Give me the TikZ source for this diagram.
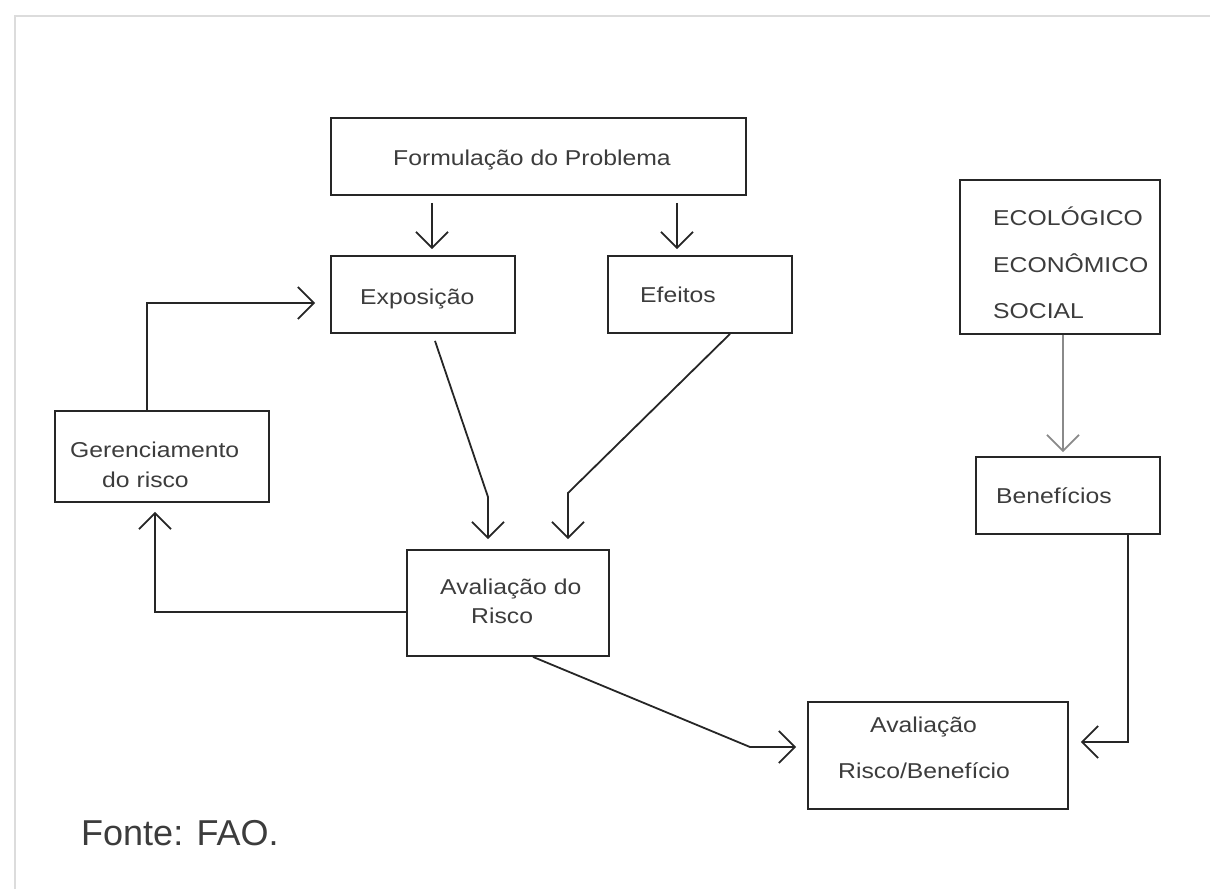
\documentclass[tikz,border=0pt]{standalone}
\usepackage{fontspec}
\setmainfont{Liberation Sans}
\newfontfamily\diagfont[FakeStretch=1.15]{Liberation Sans}
\usetikzlibrary{arrows.meta,calc}
\definecolor{ink}{HTML}{262626}
\definecolor{txt}{HTML}{3C3C3C}
\definecolor{framec}{HTML}{DCDCDC}
\definecolor{lightln}{HTML}{8A8A8A}
\begin{document}
\begin{tikzpicture}[x=1pt,y=-1pt,
 box/.style={draw=ink, line width=1.8pt, rectangle, inner sep=0pt},
 lbl/.style={font=\diagfont\fontsize{21.5}{26}\selectfont, text=txt, inner sep=0pt, anchor=base west},
 conn/.style={draw=ink, line width=1.8pt, line join=miter, -{Straight Barb[length=16pt,width=32pt]}},
]
\useasboundingbox (0,0) rectangle (1210,889);
\draw[framec, line width=2pt] (15,889) -- (15,16) -- (1210,16);

% boxes
\node[box, minimum width=415pt, minimum height=77pt] (form) at (538.5,156.5) {};
\node[box, minimum width=184pt, minimum height=77pt] (expo) at (423,294.5) {};
\node[box, minimum width=184pt, minimum height=77pt] (efei) at (700,294.5) {};
\node[box, minimum width=200pt, minimum height=154pt] (eco) at (1060,257) {};
\node[box, minimum width=184pt, minimum height=77pt] (benef) at (1068,495.5) {};
\node[box, minimum width=214pt, minimum height=91pt] (ger) at (162,456.5) {};
\node[box, minimum width=202pt, minimum height=106pt] (avr) at (508,603) {};
\node[box, minimum width=260pt, minimum height=107pt] (avrb) at (938,755.5) {};

% labels
\node[lbl] (formT) at (393,165) {Formulação do Problema};
\node[lbl] (expoT) at (360,304) {Exposição};
\node[lbl] (efeiT) at (640,302) {Efeitos};
\node[lbl] (ecoT1) at (993,225) {ECOLÓGICO};
\node[lbl] (ecoT2) at (993,272) {ECONÔMICO};
\node[lbl] (ecoT3) at (993,318) {SOCIAL};
\node[lbl] (benefT) at (996,503) {Benefícios};
\node[lbl] (gerT1) at (70,457) {Gerenciamento};
\node[lbl] (gerT2) at (102,487) {do risco};
\node[lbl] (avrT1) at (440,594) {Avaliação do};
\node[lbl] (avrT2) at (471,623) {Risco};
\node[lbl] (avrbT1) at (870,732) {Avaliação};
\node[lbl] (avrbT2) at (838,778) {Risco/Benefício};
\node[anchor=base west, font=\fontsize{36}{40}\selectfont, text=txt, inner sep=0pt] (fonte) at (81,845) {Fonte: FAO.};

% helper coordinates
\coordinate (a1) at (432,0);
\coordinate (a2) at (677,0);
\coordinate (g1) at (147,303);
\coordinate (e1) at (435,0);
\coordinate (e2) at (488,497);
\coordinate (f1) at (730,0);
\coordinate (f2) at (568,493);
\coordinate (h1) at (155,612);
\coordinate (k1) at (533,0);
\coordinate (k2) at (750,747);
\coordinate (m1) at (1063,0);
\coordinate (n1) at (1128,742);

% connectors
\draw[conn] ($(form.south -| a1)+(0,7)$) -- ($(expo.north -| a1)+(0,-6)$);
\draw[conn] ($(form.south -| a2)+(0,7)$) -- ($(efei.north -| a2)+(0,-6)$);
\draw[conn] (ger.north -| g1) -- (g1) -- ($(expo.west |- g1)+(-15,0)$);
\draw[conn] ($(expo.south -| e1)+(0,7)$) -- (e2) -- ($(avr.north -| e2)+(0,-10)$);
\draw[conn] (efei.south -| f1) -- (f2) -- ($(avr.north -| f2)+(0,-10)$);
\draw[conn] (avr.west |- h1) -- (h1) -- ($(ger.south -| h1)+(0,9)$);
\draw[conn] (avr.south -| k1) -- (k2) -- ($(avrb.west |- k2)+(-11,0)$);
\draw[conn, draw=lightln] (eco.south -| m1) -- ($(benef.north -| m1)+(0,-4)$);
\draw[conn] (benef.south -| n1) -- (n1) -- ($(avrb.east |- n1)+(12,0)$);
\end{tikzpicture}
\end{document}
